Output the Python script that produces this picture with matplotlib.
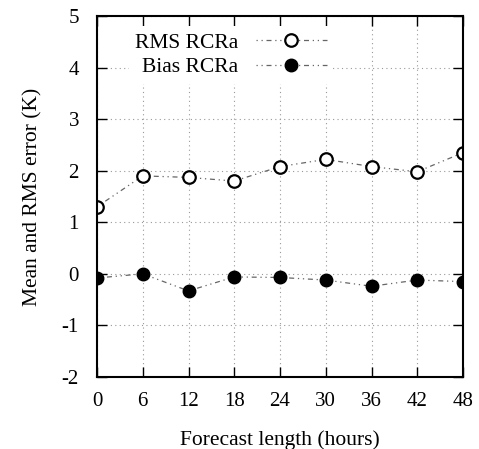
import matplotlib
matplotlib.use('Agg')
import matplotlib.pyplot as plt

plt.rcParams['font.family'] = ['Liberation Serif', 'DejaVu Serif']
plt.rcParams['axes.unicode_minus'] = False

# Forecast length (hours)
hours = [0, 6, 12, 18, 24, 30, 36, 42, 48]
rms_rcra = [1.3, 1.9, 1.87, 1.8, 2.08, 2.22, 2.08, 1.98, 2.35]
bias_rcra = [-0.08, 0.0, -0.33, -0.06, -0.07, -0.12, -0.24, -0.12, -0.15]

fig = plt.figure(figsize=(4.79, 4.49), dpi=100)
ax = fig.add_axes([97/479, 1 - 377/449, 366/479, 361/449])

ls = (0, (1, 3, 1, 3, 4, 3))
ax.plot(hours, rms_rcra, color='#666666', lw=0.9, linestyle=ls,
        marker='o', markersize=9, markerfacecolor='white',
        markeredgecolor='black', markeredgewidth=1.6, label='RMS RCRa')
ax.plot(hours, bias_rcra, color='#666666', lw=0.9, linestyle=ls,
        marker='o', markersize=9, markerfacecolor='black',
        markeredgecolor='black', label='Bias RCRa')

ax.set_xlim(0, 48)
ax.set_ylim(-2, 5)
ax.set_xticks(hours)
ax.set_yticks(range(-2, 6))
ax.grid(True, linestyle=(0, (1, 3)), color='#999999', lw=0.8)
ax.tick_params(direction='in', top=True, right=True, length=7,
               labelsize=15, width=1)
ax.tick_params(axis='x', pad=11)
ax.tick_params(axis='y', pad=13)
for s in ax.spines.values():
    s.set_linewidth(1.5)

ax.set_xlabel('Forecast length (hours)', fontsize=15.5, labelpad=14)
ax.set_ylabel('Mean and RMS error (K)', fontsize=15.5, labelpad=14)

# markerfirst=False right-aligns the labels, gnuplot style
ax.legend(loc='upper right', bbox_to_anchor=(0.645, 0.972), borderaxespad=0,
          markerfirst=False, fontsize=15.5, handlelength=3.3, handletextpad=0.8,
          labelspacing=0.22, borderpad=0.3, frameon=True, fancybox=False,
          framealpha=1, edgecolor='none')

plt.savefig('out.png', dpi=100)
